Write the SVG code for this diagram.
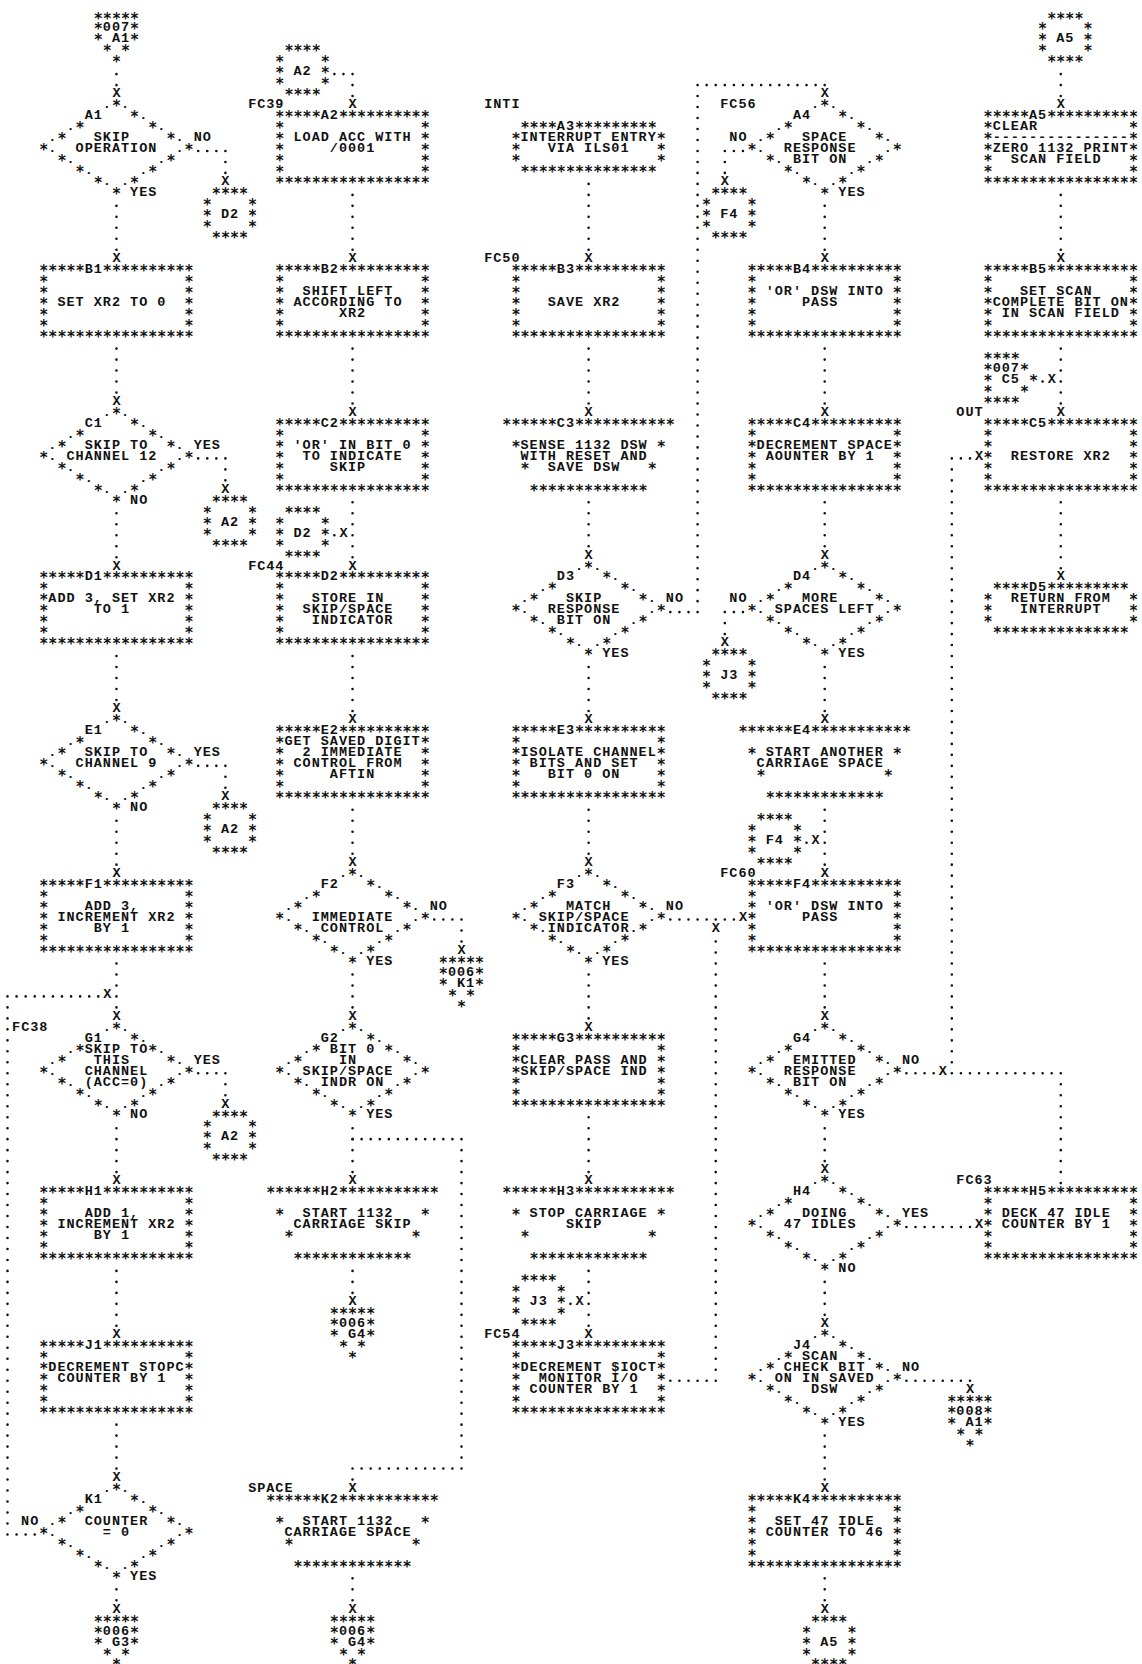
<svg xmlns="http://www.w3.org/2000/svg" width="1142" height="1664" viewBox="0 0 1142 1664" xml:space="preserve">
<style>
text{font-family:"Liberation Mono","DejaVu Sans Mono",monospace;font-size:13.5px;font-weight:bold;letter-spacing:0.98px;fill:#111;white-space:pre}
text.s{font-family:"DejaVu Sans Mono","Liberation Mono",monospace;font-size:15px;letter-spacing:0.05px}
.x{letter-spacing:0;text-anchor:middle}
.v{fill:none;stroke:#111;stroke-width:2.6;stroke-linecap:round;stroke-dasharray:0 10.98}
.h{fill:none;stroke:#111;stroke-width:2.6;stroke-linecap:round;stroke-dasharray:0 9.08}
</style>
<defs>
<g id="bx"><text class="s"><tspan x="0" y="3">*****  **********</tspan><tspan x="0" y="13.98">*               *</tspan><tspan x="0" y="24.96">*               *</tspan><tspan x="0" y="35.94">*               *</tspan><tspan x="0" y="46.92">*               *</tspan><tspan x="0" y="57.9">*               *</tspan><tspan x="0" y="68.88">*****************</tspan></text></g>
<g id="dm"><text class="s"><tspan x="0" y="3">        *</tspan><tspan x="0" y="13.98">          *</tspan><tspan x="0" y="24.96">    *       *</tspan><tspan x="0" y="35.94">  *           *</tspan><tspan x="0" y="46.92">*               *</tspan><tspan x="0" y="57.9">  *           *</tspan><tspan x="0" y="68.88">    *       *</tspan><tspan x="0" y="79.86">      *   *</tspan><tspan x="0" y="90.84">        *</tspan></text></g>
<g id="io"><text class="s"><tspan x="-9.08" y="3">******  ***********</tspan><tspan x="0" y="24.96">*               *</tspan><tspan x="0" y="46.92"> *             *</tspan><tspan x="0" y="68.88">  *************</tspan></text></g>
<g id="tm"><text class="s"><tspan x="0" y="3"> ****  *********</tspan><tspan x="0" y="13.98">*               *</tspan><tspan x="0" y="24.96">*               *</tspan><tspan x="0" y="35.94">*               *</tspan><tspan x="0" y="46.92"> ***************</tspan></text></g>
<g id="cc"><text class="s"><tspan x="0" y="3"> ****</tspan><tspan x="0" y="13.98">*    *</tspan><tspan x="0" y="24.96">*    *</tspan><tspan x="0" y="35.94">*    *</tspan><tspan x="0" y="46.92"> ****</tspan></text></g>
<g id="od"><text class="s"><tspan x="0" y="3">*****</tspan><tspan x="0" y="13.98">*   *</tspan><tspan x="0" y="24.96">*   *</tspan><tspan x="0" y="35.94"> * *</tspan><tspan x="0" y="46.92">  *</tspan></text></g>
<g id="or"><text class="s"><tspan x="0" y="3">****</tspan><tspan x="0" y="13.98">*   *</tspan><tspan x="0" y="24.96">*    *</tspan><tspan x="0" y="35.94">*   *</tspan><tspan x="0" y="46.92">****</tspan></text></g>
</defs>
<rect width="1142" height="1664" fill="#fff"/>
<g id="connectors">
<path class="v" d="M116.46 74.1V85.58M116.46 205.86V250.28M116.46 348.6V393.02M116.46 513.3V557.72M116.46 656.04V700.46M116.46 820.74V865.16M116.46 963.48V1007.9M116.46 1128.18V1172.6M116.46 1270.92V1326.32M116.46 1424.64V1469.06M116.46 1589.34V1600.82M225.42 161.94V173.42M225.42 469.38V480.86M225.42 776.82V788.3M225.42 1084.26V1095.74M7.5 1007.4V1523.96"/>
<path class="v" d="M352.54 85.08V96.56M352.54 194.88V250.28M352.54 348.6V404M352.54 502.32V557.72M352.54 656.04V711.44M352.54 809.76V854.18M461.5 930.54V942.02M352.54 974.46V1007.9M352.54 1128.18V1172.6M461.5 1150.14V1458.08M352.54 1479.54V1480.04M352.54 1270.92V1293.38M352.54 1578.36V1600.82"/>
<path class="v" d="M588.62 183.9V250.28M588.62 348.6V404M588.62 502.32V546.74M697.58 96.06V601.64M588.62 667.02V711.44M588.62 809.76V854.18M588.62 974.46V1018.88M588.62 1117.2V1172.6M588.62 1270.92V1326.32M715.74 941.52V1370.24"/>
<path class="v" d="M724.82 161.94V173.42M824.7 205.86V250.28M824.7 348.6V404M824.7 502.32V546.74M724.82 623.1V634.58M824.7 667.02V711.44M824.7 809.76V865.16M824.7 963.48V1007.9M1060.78 1084.26V1183.58M951.82 469.38V1062.8M824.7 1128.18V1161.62M824.7 1281.9V1315.34M824.7 1435.62V1480.04M824.7 1578.36V1600.82"/>
<path class="v" d="M1060.78 74.1V96.56M1060.78 194.88V250.28M1060.78 348.6V404M1060.78 502.32V568.7"/>
<path class="h" d="M198.18 150.96H225.92M198.18 458.4H225.92M198.18 765.84H225.92M198.18 1073.28H225.92M7.5 996.42H98.8M7.5 1534.44H35.24M334.38 74.1H353.04M334.38 535.26H334.88M434.26 919.56H462M352.54 1139.16H462M352.54 1468.56H462M670.34 612.12H698.08M697.58 85.08H825.2M670.34 919.56H734.4M570.46 1303.86H570.96M670.34 1380.72H716.24M724.82 150.96H743.48M724.82 612.12H743.48M806.54 842.7H807.04M906.42 1073.28H934.16M951.82 1073.28H1061.28M951.82 458.4H970.48M906.42 1227H970.48M906.42 1380.72H970.48M1042.62 381.54H1043.12"/>
<g id="arrows">
<text class="x" x="116.46" y="97.36">X</text><text class="x" x="225.42" y="185.2">X</text><text class="x" x="116.46" y="262.06">X</text><text class="x" x="116.46" y="404.8">X</text><text class="x" x="225.42" y="492.64">X</text><text class="x" x="116.46" y="569.5">X</text><text class="x" x="116.46" y="712.24">X</text><text class="x" x="225.42" y="800.08">X</text><text class="x" x="116.46" y="876.94">X</text><text class="x" x="116.46" y="1019.68">X</text><text class="x" x="107.38" y="997.72">X</text><text class="x" x="225.42" y="1107.52">X</text><text class="x" x="116.46" y="1184.38">X</text><text class="x" x="116.46" y="1338.1">X</text><text class="x" x="116.46" y="1480.84">X</text><text class="x" x="116.46" y="1612.6">X</text>
<text class="x" x="352.54" y="108.34">X</text><text class="x" x="352.54" y="262.06">X</text><text class="x" x="352.54" y="415.78">X</text><text class="x" x="352.54" y="569.5">X</text><text class="x" x="343.46" y="536.56">X</text><text class="x" x="352.54" y="723.22">X</text><text class="x" x="352.54" y="865.96">X</text><text class="x" x="461.5" y="953.8">X</text><text class="x" x="352.54" y="1019.68">X</text><text class="x" x="352.54" y="1184.38">X</text><text class="x" x="352.54" y="1491.82">X</text><text class="x" x="352.54" y="1305.16">X</text><text class="x" x="352.54" y="1612.6">X</text>
<text class="x" x="588.62" y="262.06">X</text><text class="x" x="588.62" y="415.78">X</text><text class="x" x="588.62" y="558.52">X</text><text class="x" x="824.7" y="97.36">X</text><text class="x" x="588.62" y="723.22">X</text><text class="x" x="588.62" y="865.96">X</text><text class="x" x="742.98" y="920.86">X</text><text class="x" x="588.62" y="1030.66">X</text><text class="x" x="588.62" y="1184.38">X</text><text class="x" x="588.62" y="1338.1">X</text><text class="x" x="579.54" y="1305.16">X</text><text class="x" x="715.74" y="931.84">X</text>
<text class="x" x="724.82" y="185.2">X</text><text class="x" x="824.7" y="262.06">X</text><text class="x" x="824.7" y="415.78">X</text><text class="x" x="824.7" y="558.52">X</text><text class="x" x="724.82" y="646.36">X</text><text class="x" x="824.7" y="723.22">X</text><text class="x" x="824.7" y="876.94">X</text><text class="x" x="815.62" y="844">X</text><text class="x" x="824.7" y="1019.68">X</text><text class="x" x="942.74" y="1074.58">X</text><text class="x" x="979.06" y="459.7">X</text><text class="x" x="824.7" y="1173.4">X</text><text class="x" x="979.06" y="1228.3">X</text><text class="x" x="824.7" y="1327.12">X</text><text class="x" x="969.98" y="1393">X</text><text class="x" x="824.7" y="1491.82">X</text><text class="x" x="824.7" y="1612.6">X</text>
<text class="x" x="1060.78" y="108.34">X</text><text class="x" x="1060.78" y="262.06">X</text><text class="x" x="1060.78" y="415.78">X</text><text class="x" x="1051.7" y="382.84">X</text><text class="x" x="1060.78" y="580.48">X</text>
</g>
</g>

<g id="off-007-A1" transform="translate(93.76,20.5)"><use href="#od"/><text><tspan x="0" y="10.98"> 007</tspan><tspan x="0" y="21.96">  A1</tspan></text></g>
<g id="A1" transform="translate(39.28,108.34)"><use href="#dm"/><text><tspan x="0" y="0">       . .</tspan><tspan x="0" y="10.98">     A1    .</tspan><tspan x="0" y="21.96">   .         .</tspan><tspan x="0" y="32.94"> .    SKIP     . NO</tspan><tspan x="0" y="43.92"> .  OPERATION  .</tspan><tspan x="0" y="54.9">   .         .</tspan><tspan x="0" y="65.88">     .     .</tspan><tspan x="0" y="76.86">       . .</tspan><tspan x="0" y="87.84">          YES</tspan></text></g>
<g id="conn-D2-a" transform="translate(202.72,196.18)"><use href="#cc"/><text><tspan x="0" y="21.96">  D2</tspan></text></g>
<g id="B1" transform="translate(39.28,273.04)"><use href="#bx"/><text><tspan x="0" y="0">     B1</tspan><tspan x="0" y="32.94">  SET XR2 TO 0</tspan></text></g>
<g id="C1" transform="translate(39.28,415.78)"><use href="#dm"/><text><tspan x="0" y="0">       . .</tspan><tspan x="0" y="10.98">     C1    .</tspan><tspan x="0" y="21.96">   .         .</tspan><tspan x="0" y="32.94"> .   SKIP TO   . YES</tspan><tspan x="0" y="43.92"> . CHANNEL 12  .</tspan><tspan x="0" y="54.9">   .         .</tspan><tspan x="0" y="65.88">     .     .</tspan><tspan x="0" y="76.86">       . .</tspan><tspan x="0" y="87.84">          NO</tspan></text></g>
<g id="conn-A2-a" transform="translate(202.72,503.62)"><use href="#cc"/><text><tspan x="0" y="21.96">  A2</tspan></text></g>
<g id="D1" transform="translate(39.28,580.48)"><use href="#bx"/><text><tspan x="0" y="0">     D1</tspan><tspan x="0" y="21.96"> ADD 3, SET XR2</tspan><tspan x="0" y="32.94">      TO 1</tspan></text></g>
<g id="E1" transform="translate(39.28,723.22)"><use href="#dm"/><text><tspan x="0" y="0">       . .</tspan><tspan x="0" y="10.98">     E1    .</tspan><tspan x="0" y="21.96">   .         .</tspan><tspan x="0" y="32.94"> .   SKIP TO   . YES</tspan><tspan x="0" y="43.92"> .  CHANNEL 9  .</tspan><tspan x="0" y="54.9">   .         .</tspan><tspan x="0" y="65.88">     .     .</tspan><tspan x="0" y="76.86">       . .</tspan><tspan x="0" y="87.84">          NO</tspan></text></g>
<g id="conn-A2-b" transform="translate(202.72,811.06)"><use href="#cc"/><text><tspan x="0" y="21.96">  A2</tspan></text></g>
<g id="F1" transform="translate(39.28,887.92)"><use href="#bx"/><text><tspan x="0" y="0">     F1</tspan><tspan x="0" y="21.96">     ADD 3,</tspan><tspan x="0" y="32.94">  INCREMENT XR2</tspan><tspan x="0" y="43.92">      BY 1</tspan></text></g>
<g id="G1" transform="translate(39.28,1030.66)"><use href="#dm"/><text><tspan x="-27.24" y="0">FC38</tspan><tspan x="0" y="0">       . .</tspan><tspan x="0" y="10.98">     G1    .</tspan><tspan x="0" y="21.96">   . SKIP TO .</tspan><tspan x="0" y="32.94"> .    THIS     . YES</tspan><tspan x="0" y="43.92"> .   CHANNEL   .</tspan><tspan x="0" y="54.9">   . (ACC=0) .</tspan><tspan x="0" y="65.88">     .     .</tspan><tspan x="0" y="76.86">       . .</tspan><tspan x="0" y="87.84">          NO</tspan></text></g>
<g id="conn-A2-c" transform="translate(202.72,1118.5)"><use href="#cc"/><text><tspan x="0" y="21.96">  A2</tspan></text></g>
<g id="H1" transform="translate(39.28,1195.36)"><use href="#bx"/><text><tspan x="0" y="0">     H1</tspan><tspan x="0" y="21.96">     ADD 1,</tspan><tspan x="0" y="32.94">  INCREMENT XR2</tspan><tspan x="0" y="43.92">      BY 1</tspan></text></g>
<g id="J1" transform="translate(39.28,1349.08)"><use href="#bx"/><text><tspan x="0" y="0">     J1</tspan><tspan x="0" y="21.96"> DECREMENT STOPC</tspan><tspan x="0" y="32.94">  COUNTER BY 1</tspan></text></g>
<g id="K1" transform="translate(39.28,1491.82)"><use href="#dm"/><text><tspan x="0" y="0">       . .</tspan><tspan x="0" y="10.98">     K1    .</tspan><tspan x="0" y="21.96">   .         .</tspan><tspan x="-18.16" y="32.94">NO</tspan><tspan x="0" y="32.94"> .   COUNTER   .</tspan><tspan x="0" y="43.92"> .     = 0     .</tspan><tspan x="0" y="54.9">   .         .</tspan><tspan x="0" y="65.88">     .     .</tspan><tspan x="0" y="76.86">       . .</tspan><tspan x="0" y="87.84">          YES</tspan></text></g>
<g id="off-006-G3" transform="translate(93.76,1623.58)"><use href="#od"/><text><tspan x="0" y="10.98"> 006</tspan><tspan x="0" y="21.96">  G3</tspan></text></g>

<g id="conn-A2-top" transform="translate(275.36,53.44)"><use href="#cc"/><text><tspan x="0" y="21.96">  A2</tspan></text></g>
<g id="A2" transform="translate(275.36,119.32)"><use href="#bx"/><text><tspan x="-27.24" y="-10.98">FC39</tspan><tspan x="0" y="0">     A2</tspan><tspan x="0" y="21.96">  LOAD ACC WITH</tspan><tspan x="0" y="32.94">      /0001</tspan></text></g>
<g id="B2" transform="translate(275.36,273.04)"><use href="#bx"/><text><tspan x="0" y="0">     B2</tspan><tspan x="0" y="21.96">   SHIFT LEFT</tspan><tspan x="0" y="32.94">  ACCORDING TO</tspan><tspan x="0" y="43.92">       XR2</tspan></text></g>
<g id="C2" transform="translate(275.36,426.76)"><use href="#bx"/><text><tspan x="0" y="0">     C2</tspan><tspan x="0" y="21.96">  'OR' IN BIT 0</tspan><tspan x="0" y="32.94">   TO INDICATE</tspan><tspan x="0" y="43.92">      SKIP</tspan></text></g>
<g id="conn-D2-b" transform="translate(275.36,514.6)"><use href="#cc"/><text><tspan x="0" y="21.96">  D2</tspan></text></g>
<g id="D2" transform="translate(275.36,580.48)"><use href="#bx"/><text><tspan x="-27.24" y="-10.98">FC44</tspan><tspan x="0" y="0">     D2</tspan><tspan x="0" y="21.96">    STORE IN</tspan><tspan x="0" y="32.94">   SKIP/SPACE</tspan><tspan x="0" y="43.92">    INDICATOR</tspan></text></g>
<g id="E2" transform="translate(275.36,734.2)"><use href="#bx"/><text><tspan x="0" y="0">     E2</tspan><tspan x="0" y="10.98"> GET SAVED DIGIT</tspan><tspan x="0" y="21.96">   2 IMMEDIATE</tspan><tspan x="0" y="32.94">  CONTROL FROM</tspan><tspan x="0" y="43.92">      AFTIN</tspan></text></g>
<g id="F2" transform="translate(275.36,876.94)"><use href="#dm"/><text><tspan x="0" y="0">       . .</tspan><tspan x="0" y="10.98">     F2    .</tspan><tspan x="0" y="21.96">   .         .</tspan><tspan x="0" y="32.94"> .             . NO</tspan><tspan x="0" y="43.92"> .  IMMEDIATE  .</tspan><tspan x="0" y="54.9">   . CONTROL .</tspan><tspan x="0" y="65.88">     .     .</tspan><tspan x="0" y="76.86">       . .</tspan><tspan x="0" y="87.84">          YES</tspan></text></g>
<g id="off-006-K1" transform="translate(438.8,964.78)"><use href="#od"/><text><tspan x="0" y="10.98"> 006</tspan><tspan x="0" y="21.96">  K1</tspan></text></g>
<g id="G2" transform="translate(275.36,1030.66)"><use href="#dm"/><text><tspan x="0" y="0">       . .</tspan><tspan x="0" y="10.98">     G2    .</tspan><tspan x="0" y="21.96">   .  BIT 0  .</tspan><tspan x="0" y="32.94"> .     IN      .</tspan><tspan x="0" y="43.92"> . SKIP/SPACE  .</tspan><tspan x="0" y="54.9">   . INDR ON .</tspan><tspan x="0" y="65.88">     .     .</tspan><tspan x="0" y="76.86">       . .</tspan><tspan x="0" y="87.84">          YES</tspan></text></g>
<g id="H2" transform="translate(275.36,1195.36)"><use href="#io"/><text><tspan x="0" y="0">     H2</tspan><tspan x="0" y="21.96">   START 1132</tspan><tspan x="0" y="32.94">  CARRIAGE SKIP</tspan></text></g>
<g id="off-006-G4-a" transform="translate(329.84,1316.14)"><use href="#od"/><text><tspan x="0" y="10.98"> 006</tspan><tspan x="0" y="21.96">  G4</tspan></text></g>
<g id="K2" transform="translate(275.36,1502.8)"><use href="#io"/><text><tspan x="-27.24" y="-10.98">SPACE</tspan><tspan x="0" y="0">     K2</tspan><tspan x="0" y="21.96">   START 1132</tspan><tspan x="0" y="32.94"> CARRIAGE SPACE</tspan></text></g>
<g id="off-006-G4-b" transform="translate(329.84,1623.58)"><use href="#od"/><text><tspan x="0" y="10.98"> 006</tspan><tspan x="0" y="21.96">  G4</tspan></text></g>

<g id="A3" transform="translate(511.44,130.3)"><use href="#tm"/><text><tspan x="-27.24" y="-21.96">INTI</tspan><tspan x="0" y="0">     A3</tspan><tspan x="0" y="10.98"> INTERRUPT ENTRY</tspan><tspan x="0" y="21.96">    VIA ILS01</tspan></text></g>
<g id="B3" transform="translate(511.44,273.04)"><use href="#bx"/><text><tspan x="-27.24" y="-10.98">FC50</tspan><tspan x="0" y="0">     B3</tspan><tspan x="0" y="32.94">    SAVE XR2</tspan></text></g>
<g id="C3" transform="translate(511.44,426.76)"><use href="#io"/><text><tspan x="0" y="0">     C3</tspan><tspan x="0" y="21.96"> SENSE 1132 DSW</tspan><tspan x="0" y="32.94"> WITH RESET AND</tspan><tspan x="0" y="43.92">    SAVE DSW</tspan></text></g>
<g id="D3" transform="translate(511.44,569.5)"><use href="#dm"/><text><tspan x="0" y="0">       . .</tspan><tspan x="0" y="10.98">     D3    .</tspan><tspan x="0" y="21.96">   .         .</tspan><tspan x="0" y="32.94"> .    SKIP     . NO</tspan><tspan x="0" y="43.92"> .  RESPONSE   .</tspan><tspan x="0" y="54.9">   . BIT ON  .</tspan><tspan x="0" y="65.88">     .     .</tspan><tspan x="0" y="76.86">       . .</tspan><tspan x="0" y="87.84">          YES</tspan></text></g>
<g id="E3" transform="translate(511.44,734.2)"><use href="#bx"/><text><tspan x="0" y="0">     E3</tspan><tspan x="0" y="21.96"> ISOLATE CHANNEL</tspan><tspan x="0" y="32.94">  BITS AND SET</tspan><tspan x="0" y="43.92">    BIT 0 ON</tspan></text></g>
<g id="F3" transform="translate(511.44,876.94)"><use href="#dm"/><text><tspan x="0" y="0">       . .</tspan><tspan x="0" y="10.98">     F3    .</tspan><tspan x="0" y="21.96">   .         .</tspan><tspan x="0" y="32.94"> .    MATCH    . NO</tspan><tspan x="0" y="43.92"> . SKIP/SPACE  .</tspan><tspan x="0" y="54.9">   .INDICATOR.</tspan><tspan x="0" y="65.88">     .     .</tspan><tspan x="0" y="76.86">       . .</tspan><tspan x="0" y="87.84">          YES</tspan></text></g>
<g id="G3" transform="translate(511.44,1041.64)"><use href="#bx"/><text><tspan x="0" y="0">     G3</tspan><tspan x="0" y="21.96"> CLEAR PASS AND</tspan><tspan x="0" y="32.94"> SKIP/SPACE IND</tspan></text></g>
<g id="H3" transform="translate(511.44,1195.36)"><use href="#io"/><text><tspan x="0" y="0">     H3</tspan><tspan x="0" y="21.96">  STOP CARRIAGE</tspan><tspan x="0" y="32.94">      SKIP</tspan></text></g>
<g id="conn-J3-a" transform="translate(511.44,1283.2)"><use href="#cc"/><text><tspan x="0" y="21.96">  J3</tspan></text></g>
<g id="J3" transform="translate(511.44,1349.08)"><use href="#bx"/><text><tspan x="-27.24" y="-10.98">FC54</tspan><tspan x="0" y="0">     J3</tspan><tspan x="0" y="21.96"> DECREMENT $IOCT</tspan><tspan x="0" y="32.94">   MONITOR I/O</tspan><tspan x="0" y="43.92">  COUNTER BY 1</tspan></text></g>

<g id="A4" transform="translate(747.52,108.34)"><use href="#dm"/><text><tspan x="-27.24" y="0">FC56</tspan><tspan x="0" y="0">       . .</tspan><tspan x="0" y="10.98">     A4    .</tspan><tspan x="0" y="21.96">   .         .</tspan><tspan x="-18.16" y="32.94">NO</tspan><tspan x="0" y="32.94"> .    SPACE    .</tspan><tspan x="0" y="43.92"> .  RESPONSE   .</tspan><tspan x="0" y="54.9">   . BIT ON  .</tspan><tspan x="0" y="65.88">     .     .</tspan><tspan x="0" y="76.86">       . .</tspan><tspan x="0" y="87.84">          YES</tspan></text></g>
<g id="conn-F4-a" transform="translate(702.12,196.18)"><use href="#cc"/><text><tspan x="0" y="21.96">  F4</tspan></text></g>
<g id="B4" transform="translate(747.52,273.04)"><use href="#bx"/><text><tspan x="0" y="0">     B4</tspan><tspan x="0" y="21.96">  'OR' DSW INTO</tspan><tspan x="0" y="32.94">      PASS</tspan></text></g>
<g id="C4" transform="translate(747.52,426.76)"><use href="#bx"/><text><tspan x="0" y="0">     C4</tspan><tspan x="0" y="21.96"> DECREMENT SPACE</tspan><tspan x="0" y="32.94">  AOUNTER BY 1</tspan></text></g>
<g id="D4" transform="translate(747.52,569.5)"><use href="#dm"/><text><tspan x="0" y="0">       . .</tspan><tspan x="0" y="10.98">     D4    .</tspan><tspan x="0" y="21.96">   .         .</tspan><tspan x="-18.16" y="32.94">NO</tspan><tspan x="0" y="32.94"> .    MORE     .</tspan><tspan x="0" y="43.92"> . SPACES LEFT .</tspan><tspan x="0" y="54.9">   .         .</tspan><tspan x="0" y="65.88">     .     .</tspan><tspan x="0" y="76.86">       . .</tspan><tspan x="0" y="87.84">          YES</tspan></text></g>
<g id="conn-J3-b" transform="translate(702.12,657.34)"><use href="#cc"/><text><tspan x="0" y="21.96">  J3</tspan></text></g>
<g id="E4" transform="translate(747.52,734.2)"><use href="#io"/><text><tspan x="0" y="0">     E4</tspan><tspan x="0" y="21.96">  START ANOTHER</tspan><tspan x="0" y="32.94"> CARRIAGE SPACE</tspan></text></g>
<g id="conn-F4-b" transform="translate(747.52,822.04)"><use href="#cc"/><text><tspan x="0" y="21.96">  F4</tspan></text></g>
<g id="F4" transform="translate(747.52,887.92)"><use href="#bx"/><text><tspan x="-27.24" y="-10.98">FC60</tspan><tspan x="0" y="0">     F4</tspan><tspan x="0" y="21.96">  'OR' DSW INTO</tspan><tspan x="0" y="32.94">      PASS</tspan></text></g>
<g id="G4" transform="translate(747.52,1030.66)"><use href="#dm"/><text><tspan x="0" y="0">       . .</tspan><tspan x="0" y="10.98">     G4    .</tspan><tspan x="0" y="21.96">   .         .</tspan><tspan x="0" y="32.94"> .   EMITTED   . NO</tspan><tspan x="0" y="43.92"> .  RESPONSE   .</tspan><tspan x="0" y="54.9">   . BIT ON  .</tspan><tspan x="0" y="65.88">     .     .</tspan><tspan x="0" y="76.86">       . .</tspan><tspan x="0" y="87.84">          YES</tspan></text></g>
<g id="H4" transform="translate(747.52,1184.38)"><use href="#dm"/><text><tspan x="0" y="0">       . .</tspan><tspan x="0" y="10.98">     H4    .</tspan><tspan x="0" y="21.96">   .         .</tspan><tspan x="0" y="32.94"> .    DOING    . YES</tspan><tspan x="0" y="43.92"> .  47 IDLES   .</tspan><tspan x="0" y="54.9">   .         .</tspan><tspan x="0" y="65.88">     .     .</tspan><tspan x="0" y="76.86">       . .</tspan><tspan x="0" y="87.84">          NO</tspan></text></g>
<g id="J4" transform="translate(747.52,1338.1)"><use href="#dm"/><text><tspan x="0" y="0">       . .</tspan><tspan x="0" y="10.98">     J4    .</tspan><tspan x="0" y="21.96">   .  SCAN   .</tspan><tspan x="0" y="32.94"> .  CHECK BIT  . NO</tspan><tspan x="0" y="43.92"> . ON IN SAVED .</tspan><tspan x="0" y="54.9">   .   DSW   .</tspan><tspan x="0" y="65.88">     .     .</tspan><tspan x="0" y="76.86">       . .</tspan><tspan x="0" y="87.84">          YES</tspan></text></g>
<g id="off-008-A1" transform="translate(947.28,1403.98)"><use href="#od"/><text><tspan x="0" y="10.98"> 008</tspan><tspan x="0" y="21.96">  A1</tspan></text></g>
<g id="K4" transform="translate(747.52,1502.8)"><use href="#bx"/><text><tspan x="0" y="0">     K4</tspan><tspan x="0" y="21.96">   SET 47 IDLE</tspan><tspan x="0" y="32.94">  COUNTER TO 46</tspan></text></g>
<g id="conn-A5-b" transform="translate(802,1623.58)"><use href="#cc"/><text><tspan x="0" y="21.96">  A5</tspan></text></g>

<g id="conn-A5-a" transform="translate(1038.08,20.5)"><use href="#cc"/><text><tspan x="0" y="21.96">  A5</tspan></text></g>
<g id="A5" transform="translate(983.6,119.32)"><use href="#bx"/><text><tspan x="0" y="0">     A5</tspan><tspan x="0" y="10.98"> CLEAR</tspan><tspan x="0" y="21.96"> ---------------</tspan><tspan x="0" y="32.94"> ZERO 1132 PRINT</tspan><tspan x="0" y="43.92">   SCAN FIELD</tspan></text></g>
<g id="B5" transform="translate(983.6,273.04)"><use href="#bx"/><text><tspan x="0" y="0">     B5</tspan><tspan x="0" y="21.96">    SET SCAN</tspan><tspan x="0" y="32.94"> COMPLETE BIT ON</tspan><tspan x="0" y="43.92">  IN SCAN FIELD</tspan></text></g>
<g id="off-007-C5" transform="translate(983.6,360.88)"><use href="#or"/><text><tspan x="0" y="10.98"> 007</tspan><tspan x="0" y="21.96">  C5</tspan></text></g>
<g id="C5" transform="translate(983.6,426.76)"><use href="#bx"/><text><tspan x="-27.24" y="-10.98">OUT</tspan><tspan x="0" y="0">     C5</tspan><tspan x="0" y="32.94">   RESTORE XR2</tspan></text></g>
<g id="D5" transform="translate(983.6,591.46)"><use href="#tm"/><text><tspan x="0" y="0">     D5</tspan><tspan x="0" y="10.98">   RETURN FROM</tspan><tspan x="0" y="21.96">    INTERRUPT</tspan></text></g>
<g id="H5" transform="translate(983.6,1195.36)"><use href="#bx"/><text><tspan x="-27.24" y="-10.98">FC63</tspan><tspan x="0" y="0">     H5</tspan><tspan x="0" y="21.96">  DECK 47 IDLE</tspan><tspan x="0" y="32.94">  COUNTER BY 1</tspan></text></g>
</svg>
